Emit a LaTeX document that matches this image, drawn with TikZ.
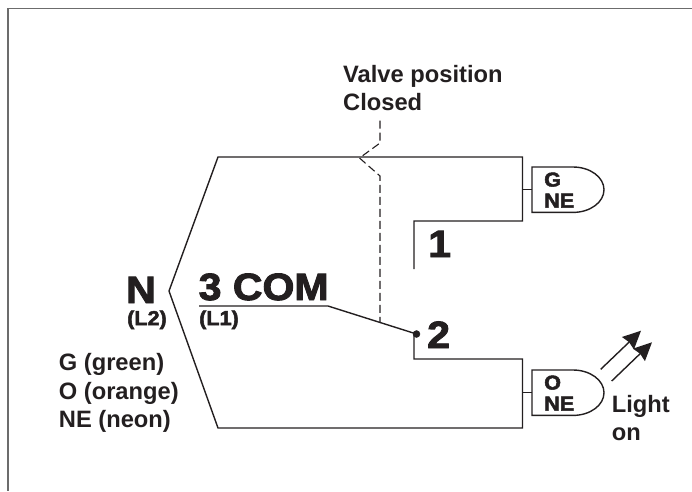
\documentclass[tikz,border=0pt]{standalone}
\usepackage{fontspec}
\usetikzlibrary{arrows.meta}
\setmainfont{Liberation Sans}
\newfontfamily\heavyfont[FakeStretch=1.08,FakeBold=2.5]{Liberation Sans Bold}
\definecolor{ink}{HTML}{231F20}
\tikzset{
  wire/.style={ink,line width=1.4pt,line join=miter},
  lbl/.style={ink,inner sep=0pt,anchor=base west,font=\fontsize{23.7}{23.7}\selectfont\bfseries},
  biglbl/.style={ink,inner sep=0pt,anchor=base west,font=\fontsize{38}{38}\heavyfont},
  smalllbl/.style={ink,inner sep=0pt,anchor=base west,font=\fontsize{20}{20}\heavyfont}
}
\begin{document}
\begin{tikzpicture}[x=1pt,y=-1pt,>={Stealth[length=18pt,width=17pt,inset=1.5pt]}]
\useasboundingbox (0,0) rectangle (692,491);
\draw[gray!85!black,line width=1.3pt] (692,8.3)--(8,8.3)--(8,491);
\coordinate (apex) at (169,291);
\coordinate (com) at (199,306);
\coordinate (comend) at (328,306);
\coordinate (t1) at (414,269);
\coordinate (shaft) at (380,322.5);
% the two wires from the neutral point
\draw[wire] (t1)--(414,221)--(522.5,221)--(522.5,157)--(218,157)--(apex)--(218,428)--(522.5,428)--(522.5,359)--(414,359)--(414,334);
% moving contact and valve shaft
\draw[wire] (com)--(comend)--(416.5,334);
\draw[fill=ink,ink] (416.5,334) circle (3.5pt);
\draw[ink,line width=1.1pt,dash pattern=on 8pt off 4pt] (380,120.5)--(380,143)--(359.5,158)--(380,176)--(shaft);
% lamps
\foreach \lampname/\ytop/\letter in {g/167/G,o/370/O}{
  \draw[wire] (532,\ytop)--(573,\ytop) arc[start angle=-90,end angle=90,x radius=31,y radius=22.7]--(532,\ytop+45.4)--cycle;
  \draw[wire] (522.5,\ytop+22.2)--(532,\ytop+22.2);
  \node[smalllbl] (\lampname let) at (544,\ytop+19.5) {\letter};
  \node[smalllbl] (\lampname ne) at (544,\ytop+40.5) {NE};
}
\coordinate (raya) at (600.7,369.3);
\coordinate (rayb) at (611.7,381);
\coordinate (tipa) at (641,330.7);
\coordinate (tipb) at (652,342.3);
\draw[->,wire] (raya)--(tipa);
\draw[->,wire] (rayb)--(tipb);
% labels
\node[lbl] (valve) at (343,82) {Valve position};
\node[lbl] (closed) at (343,110.7) {Closed};
\node[biglbl] (one) at (428,257) {1};
\node[biglbl] (two) at (427,348) {2};
\node[biglbl] (comlbl) at (198.5,300) {3 COM};
\node[biglbl] (nlbl) at (126,303) {N};
\node[smalllbl] (ltwo) at (127,325) {(L2)};
\node[smalllbl] (lone) at (199,325) {(L1)};
\node[lbl] (green) at (58.7,370) {G (green)};
\node[lbl] (orange) at (58.7,399) {O (orange)};
\node[lbl] (neon) at (58.7,427.7) {NE (neon)};
\node[lbl] (light) at (611.7,412.7) {Light};
\node[lbl] (on) at (611.7,440.7) {on};
\end{tikzpicture}
\end{document}
